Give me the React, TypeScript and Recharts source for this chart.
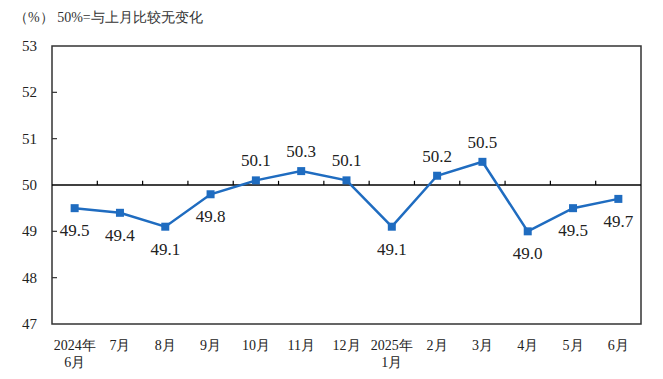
import { LineChart, Line, XAxis, YAxis, ReferenceLine, ReferenceArea, LabelList } from 'recharts';

const months = ['2024年\n6月', '7月', '8月', '9月', '10月', '11月', '12月', '2025年\n1月', '2月', '3月', '4月', '5月', '6月'];
const pmi = [49.5, 49.4, 49.1, 49.8, 50.1, 50.3, 50.1, 49.1, 50.2, 50.5, 49.0, 49.5, 49.7];
const yTicks = [47, 48, 49, 50, 51, 52, 53];

const data = months.map((m, i) => ({ i, month: m, value: pmi[i] }));
const boundaries = months.slice(1).map((_, k) => k + 0.5);

const SERIF = 'Liberation Serif, DejaVu Serif, Times New Roman, serif';
const BLUE = '#1f6cc0';

const XTick = (props: any) => {
  const { x, y, payload } = props;
  const lines = months[payload.value].split('\n');
  return (
    <text x={x} y={y + 26} textAnchor="middle" fontSize={14} style={{ fontFamily: SERIF }} fill="#222">
      {lines.map((l, k) => (
        <tspan key={k} x={x} dy={k === 0 ? 0 : 17}>
          {l}
        </tspan>
      ))}
    </text>
  );
};

const YTick = (props: any) => {
  const { x, y, payload } = props;
  const v = payload.value;
  return (
    <g>
      {v !== 47 && v !== 53 && v !== 50 && <line x1={x} x2={x + 5} y1={y} y2={y} stroke="#333" strokeWidth={1.2} />}
      <text x={x - 15} y={y + 5} textAnchor="end" fontSize={15} style={{ fontFamily: SERIF }} fill="#222">
        {v}
      </text>
    </g>
  );
};

const Dot = (props: any) => {
  const { cx, cy } = props;
  return <rect x={cx - 4} y={cy - 4} width={8} height={8} fill={BLUE} />;
};

const ValueLabel = (props: any) => {
  const { x, y, value } = props;
  const above = value >= 50;
  return (
    <text x={x} y={above ? y - 14 : y + 28} textAnchor="middle" fontSize={17} style={{ fontFamily: SERIF }} fill="#222">
      {value.toFixed(1)}
    </text>
  );
};

export default function App() {
  return (
    <div style={{ position: 'absolute', left: 0, top: 0, width: 663, height: 379, background: '#fff', fontFamily: SERIF }}>
      <div style={{ position: 'absolute', left: 14, top: 9, fontSize: 14, color: '#333' }}>
        （%） 50%=与上月比较无变化
      </div>
      <LineChart width={663} height={379} data={data} margin={{ top: 46, right: 22, bottom: 0, left: 0 }}>
        <XAxis
          dataKey="i"
          type="number"
          domain={[-0.5, 12.5]}
          ticks={data.map((d) => d.i)}
          tick={<XTick />}
          tickLine={false}
          axisLine={false}
          tickSize={0}
          tickMargin={0}
          height={55}
          interval={0}
        />
        <YAxis
          domain={[47, 53]}
          ticks={yTicks}
          tick={<YTick />}
          tickLine={false}
          axisLine={false}
          tickSize={0}
          tickMargin={0}
          width={52}
          interval={0}
        />
        <ReferenceArea x1={-0.5} x2={12.5} y1={47} y2={53} fill="none" stroke="#333" strokeWidth={1.5} />
        <ReferenceLine y={50} stroke="#000" strokeWidth={1.3} />
        {boundaries.map((b) => (
          <ReferenceLine
            key={b}
            segment={[
              { x: b, y: 50 },
              { x: b, y: 50.09 },
            ]}
            stroke="#000"
            strokeWidth={1.2}
          />
        ))}
        <Line
          dataKey="value"
          stroke={BLUE}
          strokeWidth={2.5}
          dot={<Dot />}
          activeDot={false}
          isAnimationActive={false}
        >
          <LabelList dataKey="value" content={<ValueLabel />} />
        </Line>
      </LineChart>
    </div>
  );
}
